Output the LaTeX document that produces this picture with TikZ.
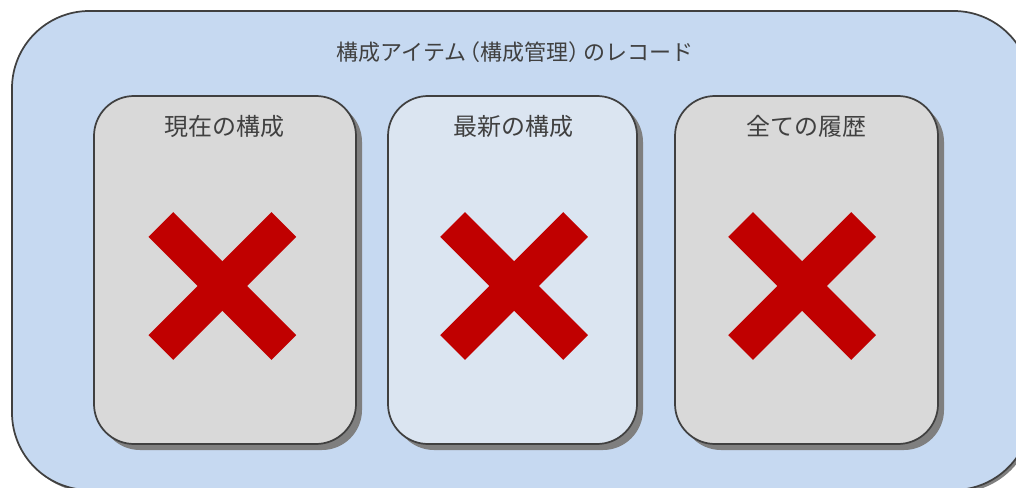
\documentclass[tikz,border=0pt]{standalone}
\usepackage{fontspec}
\newfontfamily\jp{Noto Sans CJK JP}
\usetikzlibrary{shadows}
\definecolor{outerfill}{HTML}{C6D9F1}
\definecolor{grayfill}{HTML}{D9D9D9}
\definecolor{midfill}{HTML}{DBE5F1}
\definecolor{edge}{HTML}{404040}
\definecolor{shade}{HTML}{7F7F7F}
\definecolor{xred}{HTML}{C00000}
\tikzset{
  outerbox/.style={draw=edge, line width=1.3pt, fill=outerfill, rounded corners=58pt,
    minimum width=764.25pt, minimum height=359.25pt, inner sep=0pt,
    general shadow={fill=shade, shadow xshift=2pt, shadow yshift=-2pt}},
  panel/.style={draw=edge, line width=1.3pt, rounded corners=30pt,
    minimum height=261pt, inner sep=0pt,
    general shadow={fill=shade, shadow xshift=4.5pt, shadow yshift=-4.5pt}},
  title/.style={font=\jp\fontsize{16.5}{18}\selectfont, text=edge},
  ptitle/.style={font=\jp\fontsize{18}{20}\selectfont, text=edge},
  cross/.style={draw=xred, line width=26.25pt, line cap=butt},
}
\begin{document}
\begin{tikzpicture}[x=0.75pt,y=-0.75pt]
\useasboundingbox (0,0) rectangle (1016,488);
\clip (0,0) rectangle (1016,488);
\node[outerbox] (outer) at (521.5,250.5) {};
\node[title] (otitle) at (515,52) {構成アイテム\kern-0.35em（構成管理）\kern-0.35em のレコード};
\node[panel, fill=grayfill, minimum width=196.5pt] (p1) at (225,270) {};
\node[panel, fill=midfill, minimum width=186.75pt] (p2) at (512.5,270) {};
\node[panel, fill=grayfill, minimum width=197.25pt] (p3) at (806.5,270) {};
\node[ptitle] (t1) at (224,126) {現在の構成};
\node[ptitle] (t2) at (513,126) {最新の構成};
\node[ptitle] (t3) at (806,126) {全ての履歴};
\coordinate (x1) at (222.3,286);
\coordinate (x2) at (514,286);
\coordinate (x3) at (802,286);
\foreach \c in {x1,x2,x3}{
  \draw[cross] ([shift={(-61.5,-61.5)}]\c) -- ([shift={(61.5,61.5)}]\c);
  \draw[cross] ([shift={(61.5,-61.5)}]\c) -- ([shift={(-61.5,61.5)}]\c);
}
\end{tikzpicture}
\end{document}
